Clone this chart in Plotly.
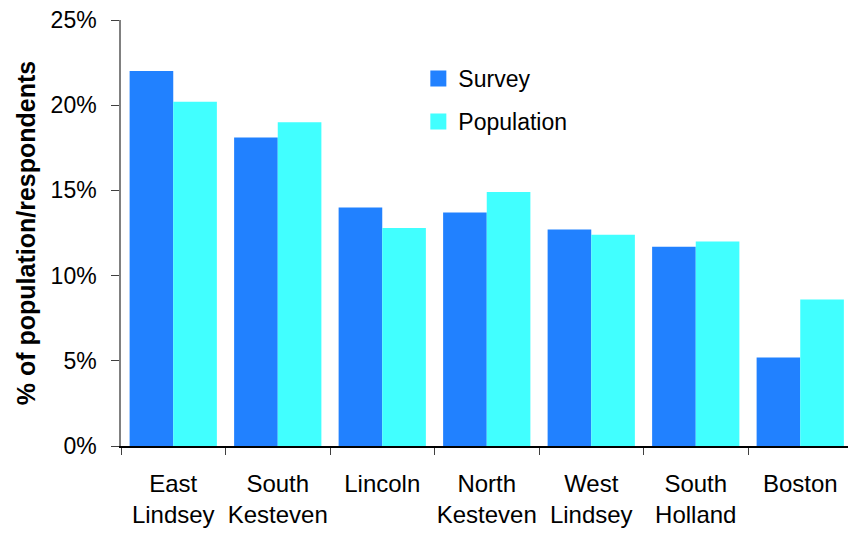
import plotly.graph_objects as go

# District shares (%) of survey respondents vs. resident population
districts = ["East<br>Lindsey", "South<br>Kesteven", "Lincoln", "North<br>Kesteven",
             "West<br>Lindsey", "South<br>Holland", "Boston"]
survey = [22.0, 18.1, 14.0, 13.7, 12.7, 11.7, 5.2]
population = [20.2, 19.0, 12.8, 14.9, 12.4, 12.0, 8.6]
y_ticks = [0, 5, 10, 15, 20, 25]
y_labels = [f"{v}%" for v in y_ticks]

FONT = "Liberation Sans, Arial, sans-serif"
SURVEY_COLOR = "#2181FF"
POP_COLOR = "#41FFFF"

fig = go.Figure()
fig.add_trace(go.Bar(name="Survey", x=districts, y=survey, marker_color=SURVEY_COLOR,
                     marker_line_width=0, showlegend=False))
fig.add_trace(go.Bar(name="Population", x=districts, y=population, marker_color=POP_COLOR,
                     marker_line_width=0, showlegend=False))

# legend entries with larger square swatches
for name, color, grp in [("Survey", SURVEY_COLOR, "a"), ("Population", POP_COLOR, "b")]:
    fig.add_trace(go.Scatter(x=[None], y=[None], mode="markers", name=name,
                             legendgroup=grp,
                             marker=dict(symbol="square", size=17, color=color)))

fig.update_layout(
    width=848, height=533,
    margin=dict(l=121, r=0, t=20, b=87),
    paper_bgcolor="white", plot_bgcolor="white",
    barmode="group", bargap=0.165, bargroupgap=0,
    font=dict(family=FONT, size=23, color="black"),
    legend=dict(x=0.409, y=0.913, xanchor="left", yanchor="top",
                font=dict(size=23), itemwidth=30,
                tracegroupgap=10, bgcolor="rgba(0,0,0,0)"),
    showlegend=True,
)
fig.update_xaxes(
    range=[-0.5, -0.5 + 727 / 104.5], automargin=False,
    showline=True, linecolor="black", linewidth=1.5,
    ticks="outside", tickson="boundaries", ticklen=7, tickcolor="#404040",
    tickfont=dict(size=24), tickangle=0, ticklabelstandoff=15,
    showgrid=False, zeroline=False,
)
fig.update_yaxes(
    range=[0, 25], tickvals=y_ticks, ticktext=y_labels, automargin=False,
    showline=True, linecolor="#808080", linewidth=1.5,
    ticks="outside", ticklen=8, tickcolor="#404040",
    tickfont=dict(size=23), ticklabelstandoff=10,
    showgrid=False, zeroline=False,
    title=dict(text="<b>% of population/respondents</b>", font=dict(size=25), standoff=8),
)

fig.write_html("out.html")
